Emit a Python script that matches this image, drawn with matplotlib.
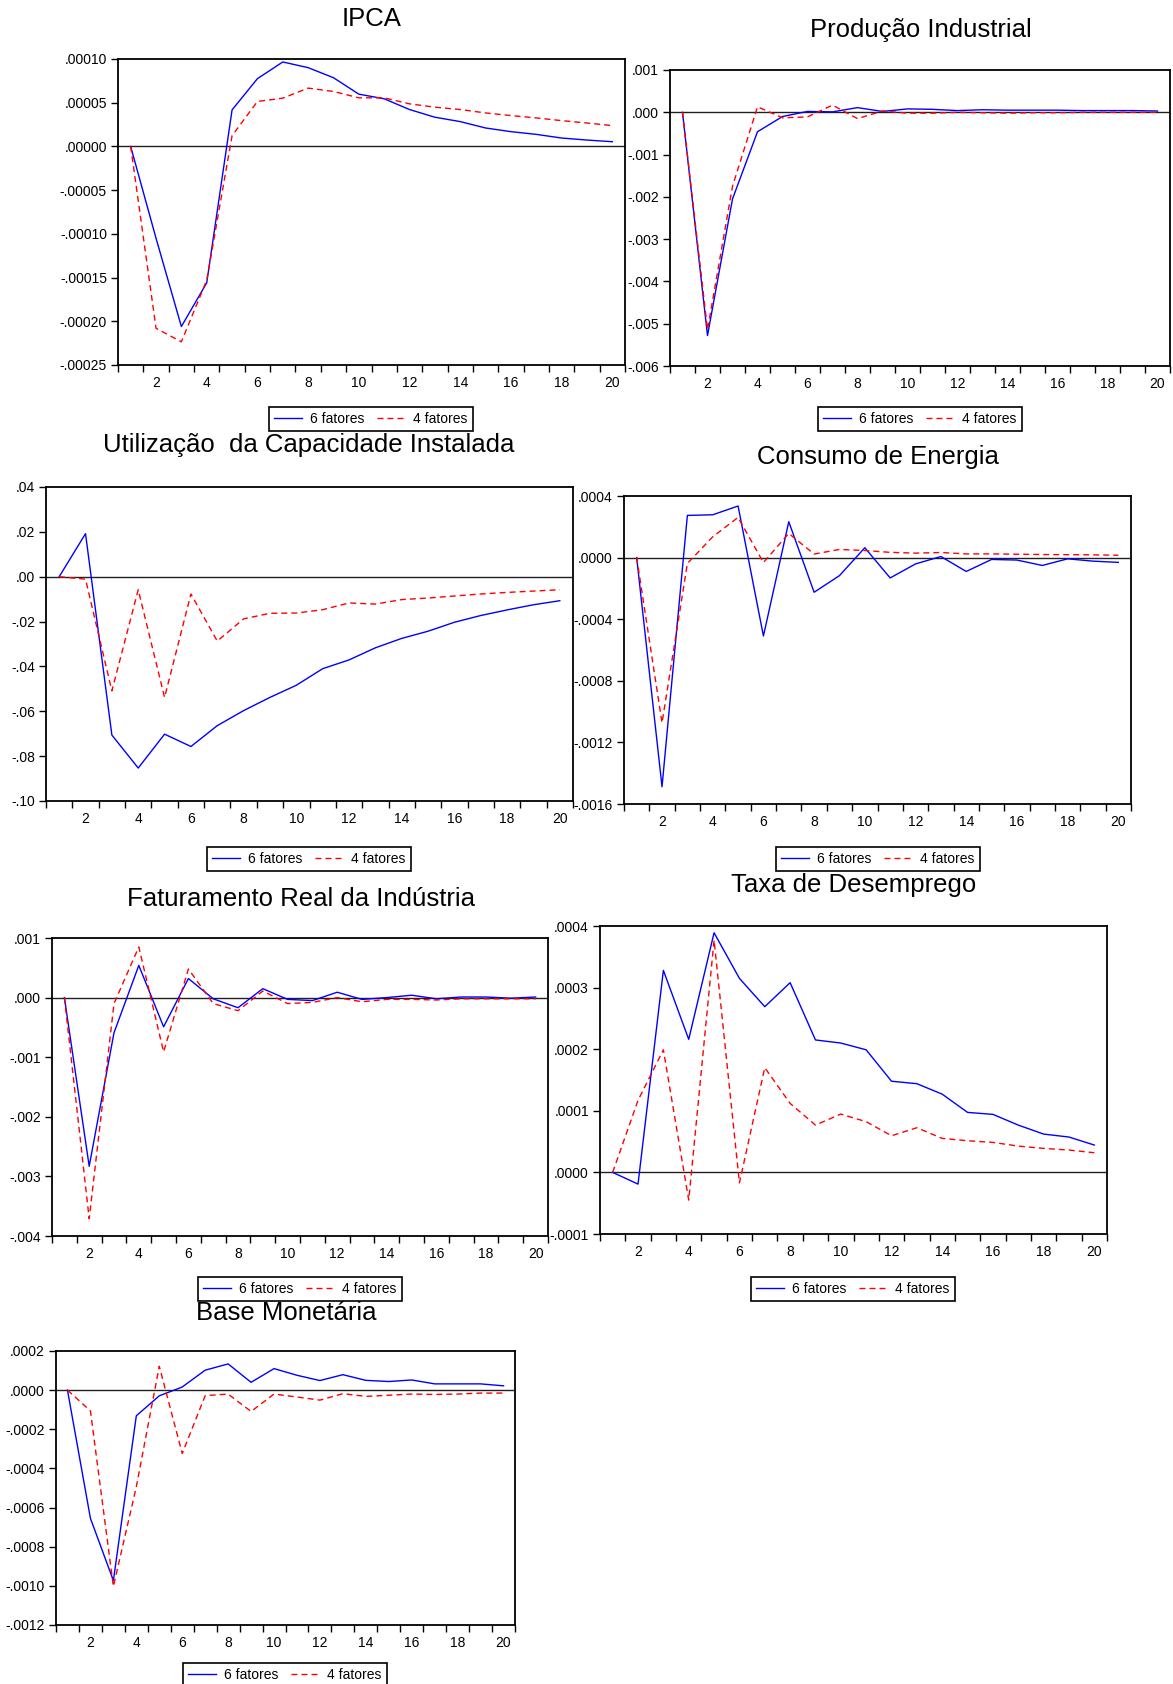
import numpy as np
import matplotlib
matplotlib.use('Agg')
import matplotlib.pyplot as plt
from matplotlib.ticker import FixedLocator, FuncFormatter, NullFormatter
from matplotlib.lines import Line2D

plt.rcParams['font.family'] = ['Liberation Sans', 'DejaVu Sans']

# ---------------- data ----------------
periods = list(range(1, 21))
series_names = ['6 fatores', '4 fatores']
titles = ['IPCA', 'Produção Industrial', 'Utilização  da Capacidade Instalada',
          'Consumo de Energia', 'Faturamento Real da Indústria',
          'Taxa de Desemprego', 'Base Monetária']
x_tick_labels = [2, 4, 6, 8, 10, 12, 14, 16, 18, 20]

ipca_6 = [0.0, -0.000105, -0.000206, -0.000156, 0.0000418, 0.0000775, 0.0000966,
          0.0000901, 0.0000786, 0.0000598, 0.0000545, 0.0000422, 0.0000334,
          0.0000284, 0.0000211, 0.0000169, 0.0000138, 0.0000096, 0.0000073, 0.0000054]
ipca_4 = [0.0, -0.000208, -0.0002235, -0.000153, 0.0000123, 0.0000514, 0.0000552,
          0.0000667, 0.0000629, 0.0000556, 0.0000556, 0.0000487, 0.0000449,
          0.0000422, 0.0000383, 0.0000353, 0.0000326, 0.0000295, 0.0000268, 0.0000238]

prod_6 = [0.0, -0.00528, -0.00205, -0.00046, -0.00010, 0.00002, 0.00001, 0.00011,
          0.00002, 0.00008, 0.00007, 0.00004, 0.00006, 0.00005, 0.00005, 0.00005,
          0.00004, 0.00004, 0.00004, 0.00003]
prod_4 = [0.0, -0.00514, -0.00175, 0.00013, -0.00013, -0.00011, 0.00017, -0.00015,
          0.00003, -0.00002, -0.00002, 0.0, -0.00001, -0.00002, -0.00001, -0.00001,
          0.0, 0.0, 0.0, 0.0]

uci_6 = [0.0, 0.0192, -0.0706, -0.0853, -0.0702, -0.0757, -0.0664, -0.0597, -0.0538,
         -0.0484, -0.0410, -0.0371, -0.0317, -0.0275, -0.0243, -0.0203, -0.0173,
         -0.0148, -0.0125, -0.0107]
uci_4 = [0.0, -0.0011, -0.0509, -0.0058, -0.0538, -0.0077, -0.0287, -0.0188, -0.0163,
         -0.0162, -0.0147, -0.0117, -0.0122, -0.0102, -0.0095, -0.0086, -0.0077,
         -0.0070, -0.0064, -0.0058]

energia_6 = [0.0, -0.001488, 0.000274, 0.000278, 0.000335, -0.000509, 0.000233,
             -0.000225, -0.000117, 0.000064, -0.000132, -0.000041, 0.000007,
             -0.000090, -0.000012, -0.000016, -0.000051, -0.000008, -0.000023, -0.000031]
energia_4 = [0.0, -0.001073, -0.000038, 0.000135, 0.000261, -0.000032, 0.000157,
             0.000023, 0.000053, 0.000046, 0.000034, 0.000029, 0.000033, 0.000024,
             0.000024, 0.000022, 0.000020, 0.000019, 0.000018, 0.000015]

fat_6 = [0.0, -0.00283, -0.00059, 0.00054, -0.00049, 0.00032, -0.00002, -0.00017,
         0.00015, -0.00003, -0.00005, 0.00009, -0.00003, 0.0, 0.00004, -0.00002,
         0.00001, 0.00001, -0.00001, 0.00001]
fat_4 = [0.0, -0.00371, -0.00010, 0.00085, -0.00091, 0.00048, -0.00010, -0.00022,
         0.00011, -0.00010, -0.00008, 0.0, -0.00007, -0.00003, -0.00003, -0.00004,
         -0.00002, -0.00002, -0.00002, -0.00002]

desemp_6 = [0.0, -0.000019, 0.000328, 0.000216, 0.000389, 0.000315, 0.000269,
            0.000308, 0.000215, 0.000210, 0.000199, 0.000148, 0.000144, 0.000127,
            0.0000974, 0.0000942, 0.0000768, 0.0000622, 0.0000574, 0.0000444]
desemp_4 = [0.0, 0.000117, 0.000199, -0.000045, 0.000377, -0.000017, 0.000170,
            0.000112, 0.0000768, 0.0000947, 0.0000823, 0.0000595, 0.0000725,
            0.0000552, 0.0000514, 0.0000487, 0.0000427, 0.000039, 0.0000363, 0.0000319]

base_6 = [0.0, -0.000655, -0.000973, -0.000131, -0.000029, 0.000016, 0.000102,
          0.000134, 0.000040, 0.000110, 0.000076, 0.000049, 0.000079, 0.000050,
          0.000044, 0.000052, 0.000032, 0.000032, 0.000032, 0.000022]
base_4 = [0.0, -0.000106, -0.001003, -0.000494, 0.000122, -0.000324, -0.000028,
          -0.000020, -0.000109, -0.000020, -0.000035, -0.000051, -0.000018,
          -0.000032, -0.000026, -0.000020, -0.000022, -0.000020, -0.000015, -0.000015]

series_6 = [ipca_6, prod_6, uci_6, energia_6, fat_6, desemp_6, base_6]
series_4 = [ipca_4, prod_4, uci_4, energia_4, fat_4, desemp_4, base_4]

# y-axis: (min, max, number of intervals, decimals)
y_axes = [(-0.00025, 0.00010, 7, 5), (-0.006, 0.001, 7, 3), (-0.10, 0.04, 7, 2),
          (-0.0016, 0.0004, 5, 4), (-0.004, 0.001, 5, 3), (-0.0001, 0.0004, 5, 4),
          (-0.0012, 0.0002, 7, 4)]

# ---------------- layout (pixels in 1173x1684) ----------------
W, H = 1173, 1684
layout = [
    dict(box=(118, 625, 59, 365), title=(372, 19), leg=(371, 419)),
    dict(box=(670, 1170, 70, 366), title=(921, 30), leg=(920, 419)),
    dict(box=(46, 573, 487, 801), title=(309, 445), leg=(309, 859)),
    dict(box=(624, 1131, 496, 804), title=(878, 457), leg=(878, 859)),
    dict(box=(52, 548, 938, 1236), title=(301, 899), leg=(300, 1289)),
    dict(box=(600, 1107, 926, 1234), title=(854, 885), leg=(853, 1289)),
    dict(box=(56, 515, 1351, 1625), title=(286, 1313), leg=(285, 1675)),
]

BLUE = '#0000ff'
RED = '#ff0000'
DASH = (0, (4.3, 2.9))


def make_fmt(dec):
    def f(v, pos):
        if abs(v) < 10 ** (-(dec + 2)):
            v = 0.0
        s = f"{v:.{dec}f}"
        s = s.replace('-0.', '-.')
        if s.startswith('0.'):
            s = s[1:]
        return s
    return f


fig = plt.figure(figsize=(W / 100, H / 100), dpi=100)

for i in range(7):
    L, R, T, B = layout[i]['box']
    ax = fig.add_axes([L / W, 1 - B / H, (R - L) / W, (B - T) / H])
    ax.plot(periods, series_6[i], color=BLUE, lw=1.0)
    ax.plot(periods, series_4[i], color=RED, lw=1.0, linestyle=DASH)
    ax.axhline(0, color='#202020', lw=1.0, zorder=1)

    lo, hi, n, dec = y_axes[i]
    ax.set_ylim(lo, hi)
    ax.yaxis.set_major_locator(FixedLocator(np.linspace(lo, hi, n + 1)))
    ax.yaxis.set_major_formatter(FuncFormatter(make_fmt(dec)))
    ax.tick_params(axis='y', direction='out', length=5, width=1, pad=3,
                   labelsize=10, colors='black')

    ax.set_xlim(0.5, 20.5)
    ax.xaxis.set_major_locator(FixedLocator(x_tick_labels))
    ax.xaxis.set_minor_locator(FixedLocator(np.arange(0.5, 21.0, 1.0)))
    ax.xaxis.set_minor_formatter(NullFormatter())
    ax.tick_params(axis='x', which='major', length=0, pad=8, labelsize=10)
    ax.tick_params(axis='x', which='minor', direction='out', length=5, width=1)

    for sp in ax.spines.values():
        sp.set_linewidth(1.3)
        sp.set_color('black')

    tx, ty = layout[i]['title']
    fig.text(tx / W, 1 - ty / H, titles[i], ha='center', va='center', fontsize=18.5)

    lx, ly = layout[i]['leg']
    handles = [Line2D([], [], color=BLUE, lw=1.0),
               Line2D([], [], color=RED, lw=1.0, linestyle=DASH)]
    leg = fig.legend(handles, series_names, loc='center',
                     bbox_to_anchor=(lx / W, 1 - ly / H), ncol=2, frameon=True,
                     fancybox=False, edgecolor='black', fontsize=10,
                     handlelength=2.0, handletextpad=0.6, columnspacing=0.9,
                     borderpad=0.35, framealpha=1)
    leg.get_frame().set_linewidth(1.2)

fig.savefig('out.png', dpi=100)
